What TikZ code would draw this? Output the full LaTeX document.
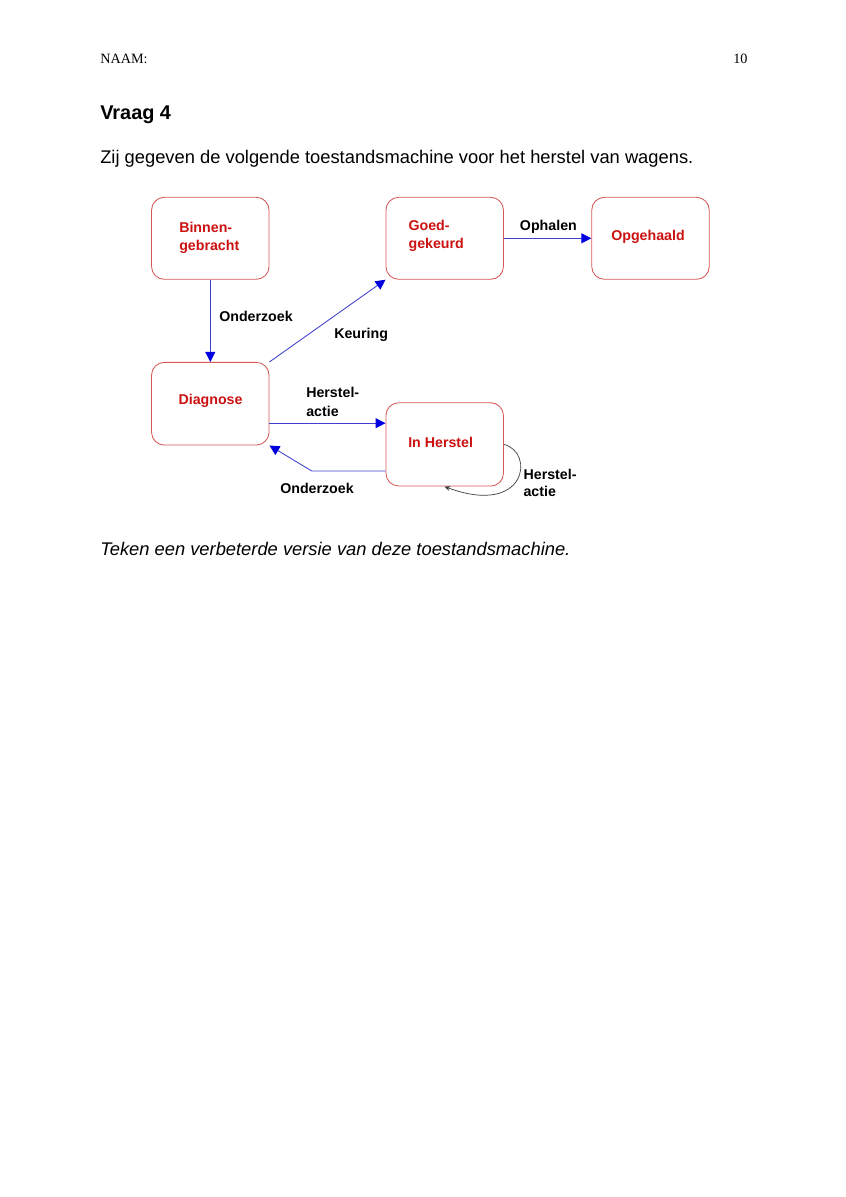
\documentclass[tikz,border=0pt]{standalone}
\usepackage{fontspec}
\setmainfont{Liberation Serif}
\newfontfamily\arialfont{Liberation Sans}
\usetikzlibrary{arrows.meta,calc}
\definecolor{boxred}{HTML}{D65858}
\definecolor{txtred}{HTML}{CC1111}
\definecolor{lineblue}{HTML}{4040D0}
\definecolor{headblue}{HTML}{0000E0}
\begin{document}
\begin{tikzpicture}[x=0.7037pt,y=-0.7037pt,
  state/.style={draw=boxred,line width=0.6pt,rounded corners=9pt,rectangle,inner sep=0pt},
  stxt/.style={anchor=base west,inner sep=0pt,font=\arialfont\bfseries\fontsize{10}{12}\selectfont,text=txtred},
  lbl/.style={anchor=base west,inner sep=0pt,font=\arialfont\bfseries\fontsize{10}{12}\selectfont,text=black},
  trans/.style={draw=lineblue,line width=0.6pt,-{Triangle[length=7pt,width=7pt,fill=headblue,color=headblue]}},
  loopline/.style={draw=black!75,line width=0.5pt,-{Stealth[length=4pt,width=3.5pt]}}]
\useasboundingbox[fill=white] (0,0) rectangle (846,1197);

% header and texts
\node[anchor=base west,inner sep=0pt,font=\fontsize{10}{12}\selectfont] (naam) at (100,63) {NAAM:};
\node[anchor=base west,inner sep=0pt,font=\fontsize{10}{12}\selectfont] (pnum) at (733,63) {10};
\node[anchor=base west,inner sep=0pt,font=\arialfont\bfseries\fontsize{14}{16}\selectfont] (vraag) at (100,119) {Vraag 4};
\node[anchor=base west,inner sep=0pt,font=\arialfont\fontsize{12.9}{15}\selectfont] (intro) at (100,163) {Zij gegeven de volgende toestandsmachine voor het herstel van wagens.};
\node[anchor=base west,inner sep=0pt,font=\arialfont\itshape\fontsize{12.9}{15}\selectfont] (task) at (100,555) {Teken een verbeterde versie van deze toestandsmachine.};

% states
\node[state,minimum width=117.5*0.7037pt,minimum height=82*0.7037pt] (B) at (210.3,238.3) {};
\node[state,minimum width=117.5*0.7037pt,minimum height=82*0.7037pt] (G) at (444.7,238.3) {};
\node[state,minimum width=117.5*0.7037pt,minimum height=82*0.7037pt] (O) at (650.5,238.3) {};
\node[state,minimum width=117.5*0.7037pt,minimum height=82.7*0.7037pt] (D) at (210.3,403.7) {};
\node[state,minimum width=117.5*0.7037pt,minimum height=83.3*0.7037pt] (H) at (444.7,444.4) {};

\node[stxt] (Bt1) at (179,232.7) {Binnen-};
\node[stxt] (Bt2) at (179,250.7) {gebracht};
\node[stxt] (Gt1) at (408.3,230) {Goed-};
\node[stxt] (Gt2) at (408.3,248.3) {gekeurd};
\node[stxt] (Ot) at (611,240) {Opgehaald};
\node[stxt] (Dt) at (178.3,404.3) {Diagnose};
\node[stxt] (Ht) at (408,447.3) {In Herstel};

% transitions
\draw[trans] (B.south) -- (D.north);
\draw[trans] (D.north east) -- (G.south west);
\draw[trans] (G.east) -- (O.west);
\coordinate (dh) at ($(D.east)+(0,19.5)$);
\draw[trans] (dh) -- (dh -| H.west);
\coordinate (hb) at ($(H.west)+(0,26.6)$);
\coordinate (bend) at (311.7,471);
\draw[trans] (hb) -- (hb -| bend) -- (D.south east);
\coordinate (loopend) at (444.5,486.6);
\draw[loopline] (H.east) .. controls (535,452) and (527,517) .. (loopend);

% labels
\node[lbl] (l1) at (219,321.7) {Onderzoek};
\node[lbl] (l2) at (334,338) {Keuring};
\node[lbl] (l3) at (519.7,230) {Ophalen};
\node[lbl] (l4a) at (306,397.7) {Herstel-};
\node[lbl] (l4b) at (306,416) {actie};
\node[lbl] (l5) at (280,493.3) {Onderzoek};
\node[lbl] (l6a) at (523.3,479.3) {Herstel-};
\node[lbl] (l6b) at (523.3,496.5) {actie};
\end{tikzpicture}
\end{document}
